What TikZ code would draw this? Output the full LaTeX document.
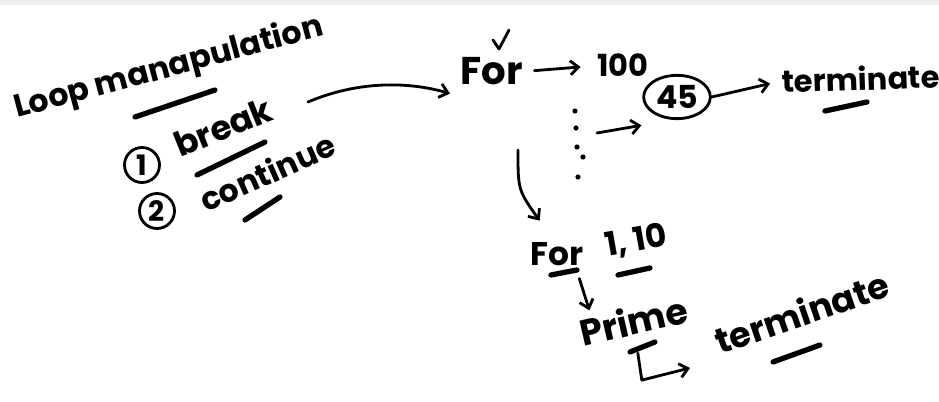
\documentclass[tikz,border=0pt]{standalone}
\usepackage{fontspec}
\setmainfont{Poppins}
\usetikzlibrary{arrows.meta,shapes.geometric}

\tikzset{
	ink/.style={line width=2.4pt, line cap=round, line join=round},
	inkarrow/.style={ink, -{Straight Barb[length=7pt,width=12pt,line width=2.4pt]}},
	hand/.style={font=\fontsize{#1}{#1}\selectfont\bfseries, inner sep=0pt},
	hand/.default=27,
	underl/.style={line width=4.5pt, line cap=round},
	numcirc/.style={circle, draw, ink, inner sep=0pt, minimum size=1.05cm, font=\fontsize{24}{24}\selectfont\bfseries}
}

\begin{document}
\begin{tikzpicture}[x=0.03cm, y=-0.03cm]
	\useasboundingbox (0,0) rectangle (939,402);
	\fill[gray!12] (0,0) rectangle (939,5);
	\node[hand, rotate=15, anchor=base west] (title) at (17,118) {Loop manapulation};
	\node[numcirc] (one) at (142,165) {1};
	\node[hand=29, rotate=22, anchor=base west] (brk) at (180,158) {break};
	\node[numcirc] (two) at (157,211) {2};
	\node[hand=27, rotate=24, anchor=base west] (cont) at (206,213) {continue};
	\node[hand=33, anchor=base west] (for) at (460,85) {For};
	\node[hand=26, anchor=base west] (hund) at (597,77) {100};
	\node[hand, ellipse, draw, ink, minimum width=2cm, minimum height=1.3cm] (c45) at (677,97) {45};
	\node[hand=26, rotate=2, anchor=base west] (term) at (782,93) {terminate};
	\node[hand=28, anchor=base west] (for2) at (530,266) {For};
	\node[hand=28, rotate=10, anchor=base west] (range) at (607,257) {1, 10};
	\node[hand=31, rotate=13, anchor=base west] (prime) at (583,347) {Prime};
	\node[hand=30, rotate=19, anchor=base west] (term2) at (720,355) {terminate};
	\coordinate (brkout) at (308,102);
	\coordinate (dotsout) at (597,133);
	\coordinate (forout) at (518,150);
	\coordinate (hooktip) at (690,368);
	\draw[ink] (493,40) -- (499,49) -- (509,30);
	\foreach \p in {(575,111),(576,128),(577,147),(583,157),(578,177)}
		\fill \p circle[radius=2.2pt];
	\draw[inkarrow] (brkout) .. controls (360,80) and (410,82) .. ([shift={(-10,8)}]for.south west);
	\draw[inkarrow, shorten <=10pt, shorten >=14pt] (for.east) -- (hund.west);
	\draw[inkarrow] (dotsout) -- ([shift={(-11,12)}]c45.south west);
	\draw[inkarrow, shorten >=10pt] (c45.east) -- (term.west);
	\draw[inkarrow] (forout) .. controls (518,190) .. ([shift={(-17,-22)}]for2.north);
	\draw[inkarrow] ([shift={(-4,12)}]for2.south east) -- ([shift={(13,-8)}]prime.north west);
	\draw[inkarrow] ([shift={(1,18)}]prime.south) -- ++(4,27) -- (hooktip);
	\draw[underl] (135,117) -- (215,90);
	\draw[underl] (197,175) -- (265,142);
	\draw[underl] (245,220) -- (280,197);
	\draw[underl] (825,111) -- (867,102);
	\draw[underl] (551,275) -- (577,270);
	\draw[underl] (618,275) -- (650,268);
	\draw[underl] (630,352) -- (655,342);
	\draw[underl] (773,362) -- (820,345);
\end{tikzpicture}
\end{document}
